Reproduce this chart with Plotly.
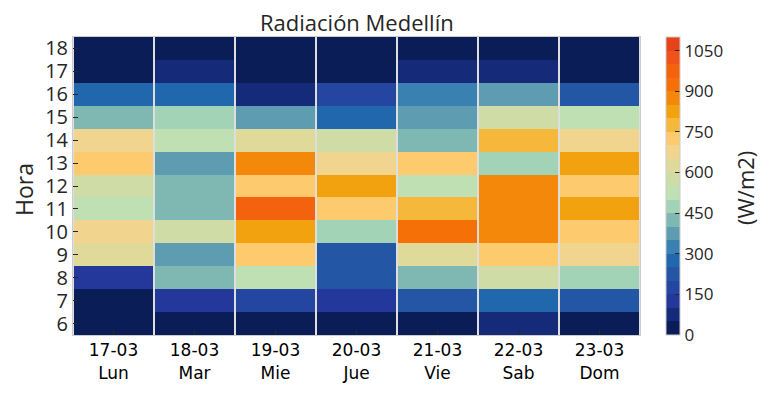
import plotly.graph_objects as go

# ---- data ----
hours = [6, 7, 8, 9, 10, 11, 12, 13, 14, 15, 16, 17, 18]
dates = ["17-03", "18-03", "19-03", "20-03", "21-03", "22-03", "23-03"]
weekdays = ["Lun", "Mar", "Mie", "Jue", "Vie", "Sab", "Dom"]

# radiation (W/m2) per day, for hours 6..18
lun = [10, 20, 120, 630, 680, 520, 580, 730, 670, 420, 280, 15, 5]
mar = [15, 130, 430, 380, 570, 420, 440, 370, 530, 480, 270, 70, 10]
mie = [20, 180, 540, 720, 830, 970, 740, 880, 620, 390, 80, 20, 5]
jue = [20, 110, 230, 240, 470, 730, 820, 660, 590, 290, 170, 20, 5]
vie = [25, 220, 410, 640, 930, 790, 510, 710, 440, 360, 320, 60, 10]
sab = [55, 260, 560, 740, 890, 870, 860, 460, 760, 570, 380, 90, 20]
dom = [30, 210, 490, 660, 720, 840, 710, 810, 690, 540, 240, 30, 10]

cbar_ticks = [0, 150, 300, 450, 600, 750, 900, 1050]
zmin, zmax = 0, 1100

level_colors = [
    "#0a1d57", "#152a78", "#24379a", "#2446a0", "#2357a6", "#2167ad",
    "#3a80b0", "#5e9db1", "#7fb8b2", "#a3d3b6", "#bfe0b2", "#cfdca6",
    "#dfd99a", "#f1d58f", "#fdcb6e", "#f5b83a", "#f2a20e", "#f4880a",
    "#f57108", "#f4620e", "#f0521a", "#e8421a",
]

# ---- build ----
days = [lun, mar, mie, jue, vie, sab, dom]
z = [[days[d][h] for d in range(len(days))] for h in range(len(hours))]

n = len(level_colors)
colorscale = []
for i, c in enumerate(level_colors):
    colorscale.append([i / n, c])
    colorscale.append([(i + 1) / n, c])

xticktext = [f"{d}<br>{w}" for d, w in zip(dates, weekdays)]
xs = list(range(len(dates)))

W, H = 759, 387
L, T, PW, PH = 65, 29, 567, 302

txt = "#262626"
fig = go.Figure(go.Heatmap(
    z=z, x=xs, y=hours,
    zmin=zmin, zmax=zmax,
    colorscale=colorscale,
    xgap=2,
    colorbar=dict(
        x=(658 - L) / PW, xanchor="left", xpad=0,
        y=0.5, yanchor="middle", len=1.0, lenmode="fraction", ypad=0,
        thickness=14,
        outlinecolor="#cccccc", outlinewidth=1,
        tickvals=cbar_ticks,
        ticks="inside", ticklen=5, tickwidth=1, tickcolor=txt,
        tickfont=dict(family="Open Sans", size=17, color=txt),
    ),
    hovertemplate="%{y}h: %{z}<extra></extra>",
))

fig.update_layout(
    width=W, height=H,
    margin=dict(l=L, r=W - L - PW, t=T, b=H - T - PH),
    paper_bgcolor="white",
    plot_bgcolor="#dedede",
    xaxis=dict(
        tickvals=xs, ticktext=xticktext,
        range=[-0.5, len(xs) - 0.5],
        ticks="inside", ticklen=5, tickcolor=txt,
        tickfont=dict(family="DejaVu Sans", size=17, color="black"),
        showgrid=False, zeroline=False,
        showline=True, mirror=True, linecolor="#cccccc", linewidth=1,
    ),
    yaxis=dict(
        tickvals=hours,
        range=[5.5, 18.5],
        ticks="inside", ticklen=5, tickcolor=txt,
        tickfont=dict(family="Open Sans", size=20, color=txt),
        showgrid=False, zeroline=False,
        showline=True, mirror=True, linecolor="#cccccc", linewidth=1,
    ),
    annotations=[
        dict(text="Radiación Medellín", xref="paper", yref="paper",
             x=0.5, y=(T + PH - 14) / PH,
             xanchor="center", yanchor="middle", showarrow=False,
             font=dict(family="Open Sans", size=22, color=txt)),
        dict(text="Hora", textangle=-90, xref="paper", yref="paper",
             x=(16 - L) / PW, y=(T + PH - 184) / PH,
             xanchor="center", yanchor="middle", showarrow=False,
             font=dict(family="Open Sans", size=23, color=txt)),
        dict(text="(W/m2)", textangle=-90, xref="paper", yref="paper",
             x=(737 - L) / PW, y=(T + PH - 182) / PH,
             xanchor="center", yanchor="middle", showarrow=False,
             font=dict(family="Open Sans", size=22, color=txt)),
    ],
)

fig.write_html("out.html")
